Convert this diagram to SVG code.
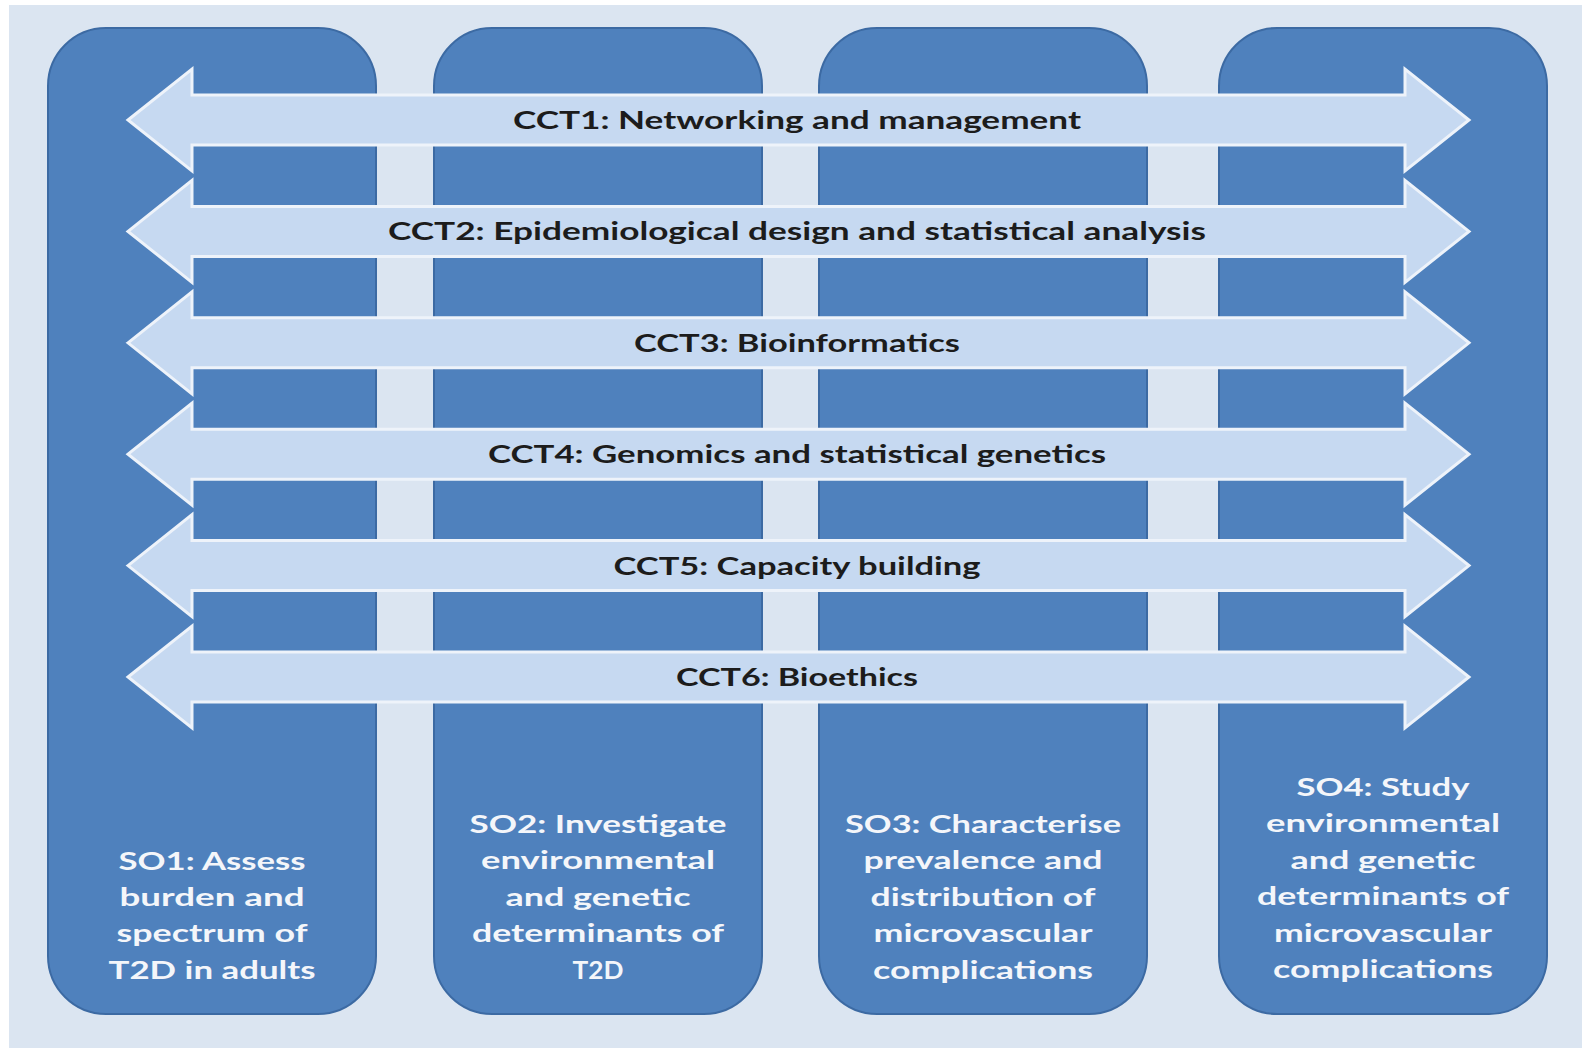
<svg xmlns="http://www.w3.org/2000/svg" xmlns:xlink="http://www.w3.org/1999/xlink" width="1582" height="1048" viewBox="0 0 1582 1048">
<defs>
<style>
.col{fill:#4f81bd;stroke:#3c6aa3;stroke-width:2}
.arr{fill:#c6d9f1;stroke:#eef3fa;stroke-width:3;stroke-linejoin:miter}
.cct{font-family:Lato,"Liberation Sans",sans-serif;font-weight:700;font-size:25px;fill:#1c1c1c;text-anchor:middle}
.so{font-family:Lato,"Liberation Sans",sans-serif;font-weight:700;font-size:25px;fill:#f4f6fa;text-anchor:middle}
</style>
<path id="dblarrow" d="M128,0 L192,-51 L192,-25 L1405,-25 L1405,-51 L1469,0 L1405,51 L1405,25 L192,25 L192,51 Z"/>
</defs>
<rect x="0" y="0" width="1582" height="1048" fill="#ffffff"/>
<rect x="9" y="5" width="1573" height="1043" fill="#dbe5f1"/>

<g id="so1">
<rect class="col" x="48" y="28" width="328" height="986" rx="58" ry="58"/>
<text class="so" x="212" y="870" textLength="187" lengthAdjust="spacingAndGlyphs">SO1: Assess</text>
<text class="so" x="212" y="906" textLength="185" lengthAdjust="spacingAndGlyphs">burden and</text>
<text class="so" x="212" y="942" textLength="191" lengthAdjust="spacingAndGlyphs">spectrum of</text>
<text class="so" x="212" y="979" textLength="207" lengthAdjust="spacingAndGlyphs">T2D in adults</text>
</g>
<g id="so2">
<rect class="col" x="434" y="28" width="328" height="986" rx="58" ry="58"/>
<text class="so" x="598" y="833" textLength="257" lengthAdjust="spacingAndGlyphs">SO2: Investigate</text>
<text class="so" x="598" y="869" textLength="234" lengthAdjust="spacingAndGlyphs">environmental</text>
<text class="so" x="598" y="906" textLength="185" lengthAdjust="spacingAndGlyphs">and genetic</text>
<text class="so" x="598" y="942" textLength="252" lengthAdjust="spacingAndGlyphs">determinants of</text>
<text class="so" x="598" y="979" textLength="51" lengthAdjust="spacingAndGlyphs">T2D</text>
</g>
<g id="so3">
<rect class="col" x="819" y="28" width="328" height="986" rx="58" ry="58"/>
<text class="so" x="983" y="833" textLength="276" lengthAdjust="spacingAndGlyphs">SO3: Characterise</text>
<text class="so" x="983" y="869" textLength="239" lengthAdjust="spacingAndGlyphs">prevalence and</text>
<text class="so" x="983" y="906" textLength="225" lengthAdjust="spacingAndGlyphs">distribution of</text>
<text class="so" x="983" y="942" textLength="219" lengthAdjust="spacingAndGlyphs">microvascular</text>
<text class="so" x="983" y="979" textLength="220" lengthAdjust="spacingAndGlyphs">complications</text>
</g>
<g id="so4">
<rect class="col" x="1219" y="28" width="328" height="986" rx="58" ry="58"/>
<text class="so" x="1383" y="796" textLength="173" lengthAdjust="spacingAndGlyphs">SO4: Study</text>
<text class="so" x="1383" y="832" textLength="234" lengthAdjust="spacingAndGlyphs">environmental</text>
<text class="so" x="1383" y="869" textLength="185" lengthAdjust="spacingAndGlyphs">and genetic</text>
<text class="so" x="1383" y="905" textLength="252" lengthAdjust="spacingAndGlyphs">determinants of</text>
<text class="so" x="1383" y="942" textLength="218" lengthAdjust="spacingAndGlyphs">microvascular</text>
<text class="so" x="1383" y="978" textLength="220" lengthAdjust="spacingAndGlyphs">complications</text>
</g>

<g id="connectors">
<g id="cct1">
<use xlink:href="#dblarrow" href="#dblarrow" class="arr" transform="translate(0,120)"/>
<text class="cct" x="797" y="129" textLength="568" lengthAdjust="spacingAndGlyphs">CCT1: Networking and management</text>
</g>
<g id="cct2">
<use xlink:href="#dblarrow" href="#dblarrow" class="arr" transform="translate(0,231.4)"/>
<text class="cct" x="797" y="240.4" textLength="818" lengthAdjust="spacingAndGlyphs">CCT2: Epidemiological design and statistical analysis</text>
</g>
<g id="cct3">
<use xlink:href="#dblarrow" href="#dblarrow" class="arr" transform="translate(0,342.8)"/>
<text class="cct" x="797" y="351.8" textLength="326" lengthAdjust="spacingAndGlyphs">CCT3: Bioinformatics</text>
</g>
<g id="cct4">
<use xlink:href="#dblarrow" href="#dblarrow" class="arr" transform="translate(0,454.2)"/>
<text class="cct" x="797" y="463.2" textLength="618" lengthAdjust="spacingAndGlyphs">CCT4: Genomics and statistical genetics</text>
</g>
<g id="cct5">
<use xlink:href="#dblarrow" href="#dblarrow" class="arr" transform="translate(0,565.6)"/>
<text class="cct" x="797" y="574.6" textLength="367" lengthAdjust="spacingAndGlyphs">CCT5: Capacity building</text>
</g>
<g id="cct6">
<use xlink:href="#dblarrow" href="#dblarrow" class="arr" transform="translate(0,677)"/>
<text class="cct" x="797" y="686" textLength="242" lengthAdjust="spacingAndGlyphs">CCT6: Bioethics</text>
</g>
</g>
</svg>
